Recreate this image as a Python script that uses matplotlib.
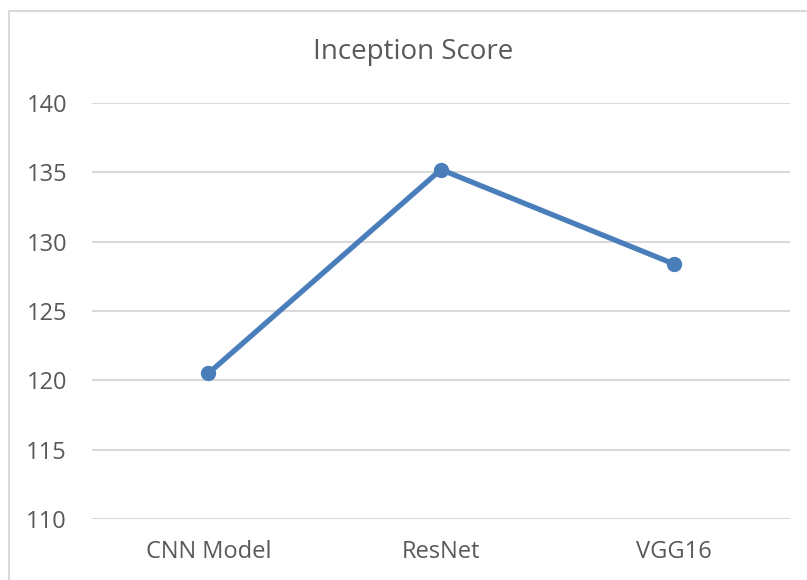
import matplotlib.pyplot as plt
from matplotlib.patches import Rectangle

plt.rcParams['font.family'] = ['Open Sans', 'DejaVu Sans']

models = ['CNN Model', 'ResNet', 'VGG16']
scores = [120.5, 135.2, 128.4]
yticks = [110, 115, 120, 125, 130, 135, 140]

W, H = 807, 580
fig = plt.figure(figsize=(W / 100, H / 100), dpi=100)

# chart border (cut off on right and bottom like the screenshot)
fig.patches.append(Rectangle((9 / W, -0.05), 1.2, 1 - 11 / H + 0.05, transform=fig.transFigure,
                             facecolor='none', edgecolor='#d9d9d9', linewidth=1.5))

ax = fig.add_axes([92 / W, 1 - 519 / H, (790 - 92) / W, (519 - 103) / H])
x = list(range(len(models)))
ax.plot(x, scores, color='#4a7ebb', linewidth=3.8, marker='o', markersize=10,
        solid_capstyle='round', zorder=3)

ax.set_xlim(-0.5, len(models) - 0.5)
ax.set_ylim(110, 140)
ax.set_yticks(yticks)
ax.set_xticks(x)
ax.set_xticklabels(models)
ax.grid(axis='y', color='#d9d9d9', linewidth=1.5)
ax.set_axisbelow(True)
for s in ax.spines.values():
    s.set_visible(False)
ax.tick_params(length=0, labelsize=17, colors='#595959')
ax.tick_params(axis='y', pad=18)
ax.tick_params(axis='x', pad=15)

fig.text(413 / W, 1 - 52 / H, 'Inception Score', ha='center', va='center',
         fontsize=20, color='#595959')

fig.savefig('out.png', dpi=100)
